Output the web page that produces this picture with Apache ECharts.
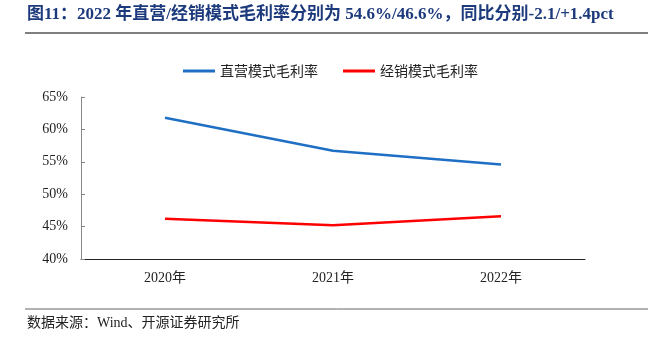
<!DOCTYPE html>
<html><head><meta charset="utf-8">
<script src="https://cdn.jsdelivr.net/npm/echarts@6/dist/echarts.min.js"></script>
<style>html,body{margin:0;padding:0;background:#fff}#c{width:648px;height:338px}</style>
</head><body><div id="c"></div>
<script>
const categories = ['2020年', '2021年', '2022年'];
const directMargin = [61.8, 56.7, 54.6];
const dealerMargin = [46.2, 45.2, 46.6];
const yTicks = [40, 45, 50, 55, 60, 65];

const chart = echarts.init(document.getElementById('c'));
chart.setOption({
  animation: false,
  graphic: [
    {type: 'text', left: 27, top: 6, style: {text: '图11：2022 年直营/经销模式毛利率分别为 54.6%/46.6%，同比分别-2.1/+1.4pct', font: 'bold 17px "Liberation Serif", "Noto Sans CJK SC"', fill: '#1c3a7c'}},
    {type: 'line', shape: {x1: 25, y1: 33, x2: 648, y2: 33}, style: {stroke: '#555', lineWidth: 1.5}},
    {type: 'line', shape: {x1: 25, y1: 309, x2: 648, y2: 309}, style: {stroke: '#666', lineWidth: 1}},
    {type: 'text', left: 27, top: 316, style: {text: '数据来源：Wind、开源证券研究所', font: '14px "Liberation Serif", "Noto Sans CJK SC"', fill: '#222'}}
  ],
  legend: {
    top: 59, left: 178,
    itemWidth: 32, itemHeight: 3, itemGap: 25,
    icon: 'rect',
    textStyle: {fontFamily: '"Noto Sans CJK SC"', fontSize: 14, color: '#222'},
    data: ['直营模式毛利率', '经销模式毛利率']
  },
  grid: {left: 81, right: 63, top: 97, bottom: 79, containLabel: false},
  xAxis: {
    type: 'category', data: categories, boundaryGap: true,
    axisLine: {lineStyle: {color: '#222', width: 1}},
    axisTick: {inside: true, length: 4, lineStyle: {color: '#222'}},
    axisLabel: {margin: 12, fontFamily: '"Liberation Serif", "Noto Sans CJK SC"', fontSize: 14, color: '#222'}
  },
  yAxis: {
    type: 'value', min: 40, max: 65, interval: 5,
    axisLine: {show: true, lineStyle: {color: '#888', width: 1}},
    axisTick: {show: true, inside: true, length: 4, lineStyle: {color: '#888'}},
    splitLine: {show: false},
    axisLabel: {margin: 13, fontFamily: '"Liberation Serif"', fontSize: 14, color: '#222', formatter: v => yTicks.includes(v) ? v + '%' : ''}
  },
  series: [
    {name: '直营模式毛利率', type: 'line', data: directMargin, symbol: 'none', lineStyle: {color: '#1f6fc5', width: 2.5}, itemStyle: {color: '#1f6fc5'}},
    {name: '经销模式毛利率', type: 'line', data: dealerMargin, symbol: 'none', lineStyle: {color: '#ff0000', width: 2.5}, itemStyle: {color: '#ff0000'}}
  ]
});
</script></body></html>
